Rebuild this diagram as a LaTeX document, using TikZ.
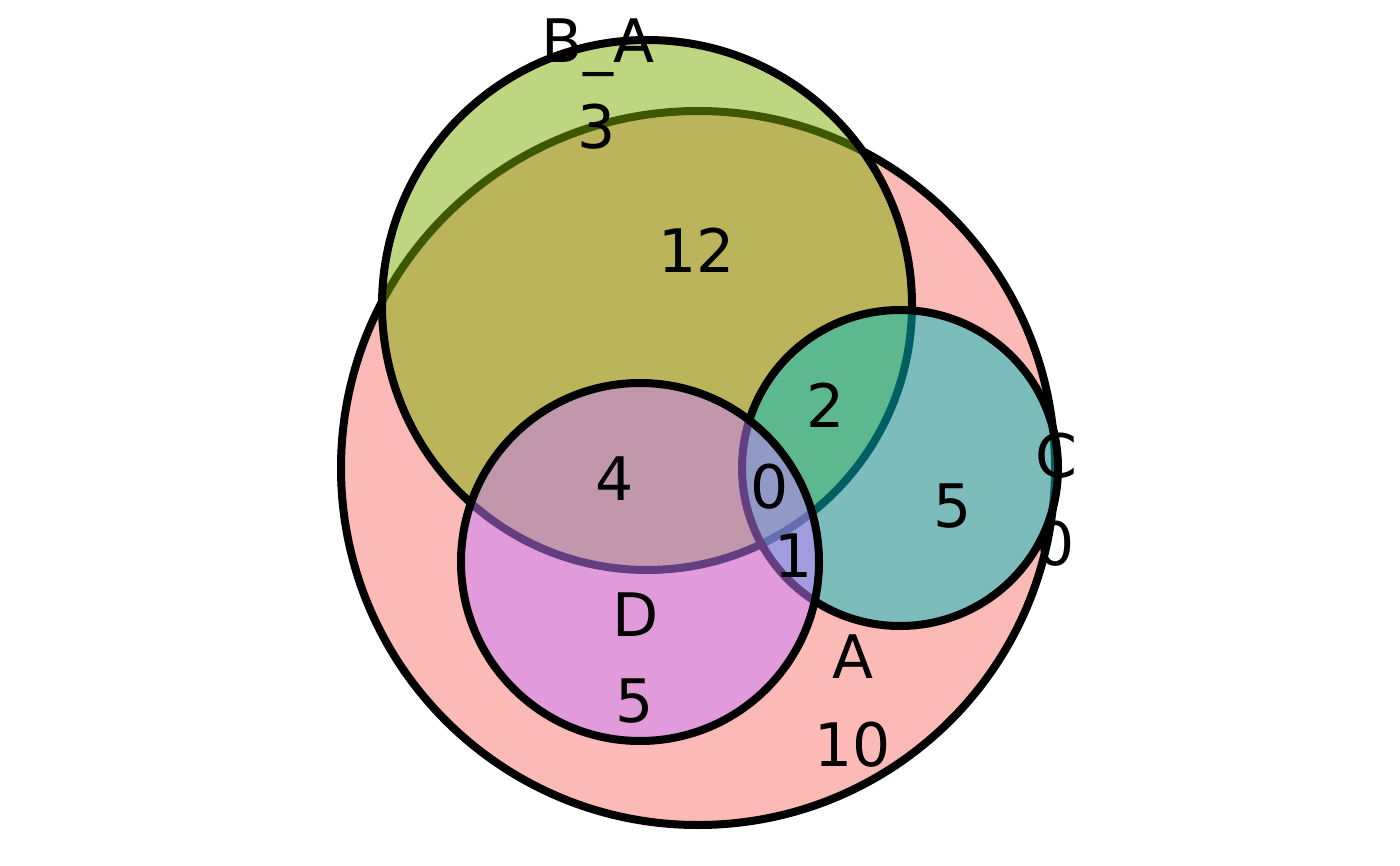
\documentclass[tikz,border=0pt]{standalone}
\usepackage{fontspec}
\setmainfont{DejaVu Sans}
\definecolor{colA}{HTML}{F8766D}
\definecolor{colB}{HTML}{7CAE00}
\definecolor{colC}{HTML}{00BFC4}
\definecolor{colD}{HTML}{C77CFF}
\begin{document}
\begin{tikzpicture}[x=1pt,y=-1pt,
  setcircle/.style={draw=black,line width=8pt,fill opacity=0.5},
  lab/.style={inner sep=0pt,anchor=base,font=\fontsize{60}{72}\selectfont}]
\useasboundingbox (0,0) rectangle (1400,866);
\draw[setcircle,fill=colA] (698,468) circle[radius=357];
\draw[setcircle,fill=colB] (647,305) circle[radius=265];
\draw[setcircle,fill=colC] (900,468) circle[radius=158];
\draw[setcircle,fill=colD] (640,562) circle[radius=179];
\node[lab] (lBA) at (598,63) {B\_A};
\node[lab] (n3) at (597,149) {3};
\node[lab] (n12) at (697,273) {12};
\node[lab] (n2) at (826,428) {2};
\node[lab] (lC) at (1056,477) {C};
\node[lab] (n5c) at (953,527) {5};
\node[lab] (n0r) at (1056,565) {0};
\node[lab] (n4) at (615,500) {4};
\node[lab] (n0) at (770,508) {0};
\node[lab] (n1) at (794,577) {1};
\node[lab] (lD) at (636,636) {D};
\node[lab] (n5d) at (635,722) {5};
\node[lab] (lA) at (853,678) {A};
\node[lab] (n10) at (853,766) {10};
\end{tikzpicture}
\end{document}
